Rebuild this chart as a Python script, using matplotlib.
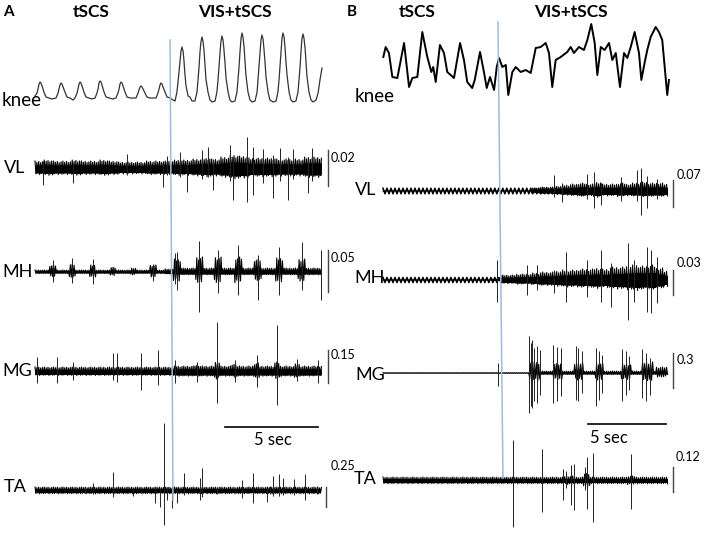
import numpy as np
import matplotlib.pyplot as plt

# ---- knee angle traces (time s, relative height) ----
A_knee_t = [0.00, 0.11, 0.16, 0.22, 0.27, 0.32, 0.38, 0.48, 0.59, 0.75, 0.91,
            1.13, 1.24, 1.29, 1.34, 1.40, 1.45, 1.51, 1.61, 1.72, 1.88, 2.04,
            2.15, 2.26, 2.31, 2.37, 2.42, 2.47, 2.53, 2.63, 2.74, 2.90, 3.06,
            3.23, 3.33, 3.39, 3.44, 3.49, 3.55, 3.60, 3.71, 3.82, 3.98, 4.19,
            4.35, 4.46, 4.52, 4.57, 4.62, 4.68, 4.73, 4.84, 4.95, 5.11, 5.27,
            5.43, 5.54, 5.59, 5.65, 5.70, 5.75, 5.81, 5.91, 6.02, 6.18, 6.34,
            6.51, 6.61, 6.67, 6.72, 6.77, 6.83, 6.88, 6.99, 7.10, 7.26, 7.42,
            7.53, 7.63, 7.69, 7.74, 7.80, 7.85, 7.90, 7.96, 8.01, 8.06, 8.12, 8.23, 8.33, 8.44,
            8.60, 8.71, 8.76, 8.82, 8.87, 8.92, 8.98, 9.03, 9.09, 9.14, 9.19, 9.30, 9.41, 9.52,
            9.68, 9.78, 9.84, 9.89, 9.95, 10.00, 10.05, 10.11, 10.16, 10.22, 10.27, 10.38, 10.48, 10.59,
            10.75, 10.86, 10.91, 10.97, 11.02, 11.08, 11.13, 11.18, 11.24, 11.29, 11.34, 11.45, 11.56, 11.67,
            11.83, 11.94, 11.99, 12.04, 12.10, 12.15, 12.20, 12.26, 12.31, 12.37, 12.42, 12.53, 12.63, 12.80,
            12.96, 13.06, 13.12, 13.17, 13.23, 13.28, 13.33, 13.39, 13.44, 13.49, 13.55, 13.66, 13.76, 13.87,
            14.03, 14.14, 14.19, 14.25, 14.30, 14.35, 14.41, 14.46, 14.52, 14.57, 14.62, 14.73, 14.84, 14.95,
            15.11, 15.22, 15.32, 15.43]
A_knee_v = [6, 9, 13, 18, 20, 19, 16, 10, 5, 4, 3,
            4, 9, 13, 17, 19, 18, 15, 10, 5, 4, 2,
            4, 9, 13, 18, 20, 19, 16, 10, 5, 4, 3,
            4, 9, 13, 19, 21, 20, 17, 10, 5, 4, 3,
            4, 9, 13, 18, 20, 19, 16, 10, 5, 4, 4,
            4, 9, 12, 15, 16, 15, 13, 9, 5, 4, 4,
            4, 9, 13, 17, 19, 18, 15, 10, 5, 4, 2,
            1, 10, 20, 30, 42, 51, 55, 51, 41, 28, 16, 6, 5, 1,
            1, 10, 22, 35, 50, 60, 65, 61, 51, 37, 23, 10, 2, 0,
            1, 10, 22, 35, 50, 61, 66, 62, 52, 38, 24, 10, 2, 0,
            1, 10, 22, 35, 50, 64, 69, 65, 55, 41, 27, 10, 2, 0,
            1, 10, 22, 35, 50, 62, 67, 63, 53, 39, 25, 10, 2, 0,
            1, 10, 22, 35, 50, 64, 69, 65, 55, 41, 27, 10, 2, 0,
            1, 10, 22, 35, 50, 63, 68, 64, 54, 40, 26, 10, 2, 0,
            2, 9, 22, 34]

B_knee_t = [0.02, 0.17, 0.38, 0.60, 0.92, 1.35, 1.67, 1.88, 2.20, 2.52, 2.84, 3.10, 3.22, 3.38,
            3.65, 3.91, 4.12, 4.55, 4.94, 5.19, 5.40, 5.72, 5.88, 6.22, 6.47, 6.65, 6.86, 7.12,
            7.29, 7.44, 7.65, 7.87, 8.03, 8.29, 8.51, 8.83, 9.15, 9.47, 9.79, 10.11, 10.43, 10.64,
            10.85, 11.07, 11.39, 11.81, 12.03, 12.24, 12.56, 12.88, 13.10, 13.35, 13.57, 13.74,
            13.96, 14.21, 14.49, 14.70, 14.92, 15.19, 15.45, 15.66, 15.88, 16.13, 16.41, 16.56,
            16.78, 16.94, 17.16, 17.48, 17.69, 17.90, 18.22, 18.33]
B_knee_v = [39, 49, 43, 19, 18, 53, 9, 18, 19, 64, 39, 24, 29, 14,
            51, 43, 24, 18, 53, 36, 14, 8, 16, 44, 24, 8, 19, 6,
            29, 38, 29, 31, 1, 24, 29, 24, 26, 23, 48, 49, 53, 43,
            9, 36, 39, 44, 49, 43, 49, 46, 56, 72, 53, 21,
            49, 46, 53, 36, 43, 9, 43, 38, 49, 64, 43, 16,
            34, 46, 59, 69, 64, 56, 1, 16]

# ---- EMG: noise level per 0.5 s bin, bursts (t, half height, duration), spikes (t, up, down) ----
A_VL_env = [8, 9, 8, 8, 9, 8, 8, 9, 8, 7, 7, 7, 8, 8, 8,
            9, 9, 10, 11, 10, 12, 14, 13, 11, 11, 11, 10, 10, 10, 12, 12]
A_VL_bursts = []
A_VL_spikes = [(0.43, 8, 16), (2.04, 6, 14), (4.95, 15, 6), (6.88, 5, 18), (7.10, 13, 6),
               (7.80, 17, 8), (8.17, 8, 23), (8.98, 19, 10), (9.30, 22, 8), (9.57, 10, 21),
               (10.48, 24, 12), (10.65, 12, 31), (11.40, 32, 33), (11.72, 22, 26), (12.26, 20, 14),
               (12.80, 14, 29), (13.17, 21, 12), (13.60, 12, 31), (13.87, 20, 10), (14.68, 10, 24),
               (14.89, 21, 12)]

A_MH_env = [2, 2, 2, 2, 2, 2, 2, 2, 2, 2, 2, 2, 2, 2, 3,
            4, 4, 4, 4, 4, 4, 4, 4, 4, 4, 4, 4, 4, 4, 4, 4]
A_MH_bursts = [(0.97, 7, 0.35), (1.99, 8, 0.35), (3.12, 7, 0.35), (4.19, 5, 0.3), (5.27, 4, 0.3),
               (6.34, 7, 0.35), (7.63, 13, 0.4), (8.82, 15, 0.4), (9.84, 15, 0.4), (10.91, 15, 0.4),
               (11.99, 13, 0.4), (13.12, 14, 0.4), (14.35, 13, 0.4)]
A_MH_spikes = [(0.97, 12, 10), (1.99, 14, 11), (3.12, 13, 12), (6.34, 8, 9), (7.50, 19, 12),
               (7.63, 20, 18), (8.82, 31, 40), (9.84, 22, 21), (10.91, 27, 23), (11.99, 17, 28),
               (13.12, 25, 23), (14.35, 30, 18), (15.38, 22, 28)]

A_MG_env = [5, 5, 5, 5, 5, 5, 5, 5, 5, 5, 5, 5, 5, 5, 5,
            6, 6, 6, 6, 6, 6, 6, 6, 6, 6, 6, 6, 6, 6, 6, 6]
A_MG_bursts = [(8.71, 7, 0.3), (9.78, 10, 0.3), (10.75, 8, 0.3), (11.94, 9, 0.3),
               (13.01, 10, 0.3), (14.09, 8, 0.3)]
A_MG_spikes = [(0.11, 15, 11), (1.18, 15, 11), (2.04, 10, 8), (4.19, 19, 8), (4.41, 19, 10),
               (5.70, 19, 18), (6.61, 22, 13), (7.53, 12, 11), (8.71, 10, 10), (9.78, 50, 31),
               (10.75, 12, 10), (11.94, 17, 15), (13.01, 47, 33), (14.09, 13, 9), (15.22, 12, 11)]

A_TA_env = [4, 4, 4, 4, 4, 4, 4, 4, 4, 4, 4, 4, 4, 4, 4,
            4, 4, 4, 4, 4, 4, 4, 4, 4, 4, 4, 4, 4, 4, 4, 4]
A_TA_bursts = []
A_TA_spikes = [(2.69, 4, 2), (3.12, 8, 3), (4.19, 19, 6), (5.27, 2, 5), (6.45, 3, 12), (6.72, 2, 16),
               (6.94, 68, 34), (7.10, 4, 9), (7.37, 2, 17), (7.63, 3, 12), (8.01, 18, 4),
               (8.87, 13, 9), (8.98, 23, 6), (9.78, 4, 3), (11.13, 11, 7), (11.72, 18, 12),
               (12.47, 3, 11), (12.63, 5, 3), (12.80, 15, 5), (13.12, 17, 5), (13.33, 13, 4),
               (13.92, 12, 4), (14.52, 17, 9), (15.16, 5, 3)]

B_VL_env = [0, 0, 0, 0, 0, 0, 0, 0, 0, 0, 0, 0, 0, 0, 0, 0, 0, 0, 0,
            3, 4, 4, 5, 6, 7, 8, 7, 9, 7, 7, 8, 7, 8, 9, 8, 8, 7]
B_VL_artifact = 2.8
B_VL_bursts = []
B_VL_spikes = [(10.96, 16, 6), (11.47, 8, 11), (13.08, 17, 8), (13.53, 19, 17), (13.96, 8, 14),
               (15.24, 14, 10), (16.28, 21, 10), (16.52, 23, 24), (16.92, 15, 17), (17.56, 12, 8)]

B_MH_env = [0, 0, 0, 0, 0, 0, 0, 0, 0, 0, 0, 0, 0, 0,
            1, 5, 5, 6, 6, 7, 8, 8, 9, 10, 10, 11, 11, 12, 11, 13, 13, 14, 15, 14, 15, 12, 9]
B_MH_artifact = 2.6
B_MH_bursts = []
B_MH_spikes = [(7.31, 20, 22), (9.25, 15, 15), (9.85, 15, 10), (10.96, 10, 13), (11.75, 28, 22),
               (13.08, 20, 17), (13.96, 30, 22), (14.60, 17, 27), (15.71, 37, 40), (16.09, 20, 22),
               (16.94, 33, 32), (17.16, 30, 33), (17.58, 23, 23)]

B_MG_env = [0.4] * 19 + [2] * 18
B_MG_bursts = [(9.74, 11, 0.7), (11.19, 10, 0.6), (12.56, 10, 0.55), (13.85, 10, 0.55),
               (15.58, 9, 0.6), (16.96, 11, 0.7), (17.88, 6, 0.7)]
B_MG_spikes = [(7.35, 10, 13), (9.38, 37, 40), (9.47, 30, 33), (9.57, 33, 35), (9.70, 25, 28),
               (9.85, 27, 30), (10.06, 23, 22), (10.92, 28, 30), (11.17, 26, 28), (11.39, 25, 23),
               (12.35, 27, 27), (12.52, 25, 28), (12.78, 22, 20), (13.63, 25, 33), (13.85, 22, 27),
               (14.06, 18, 20), (15.34, 24, 28), (15.56, 22, 22), (15.77, 17, 17), (16.62, 24, 25),
               (16.86, 20, 28), (17.12, 15, 22)]

B_TA_env = [4] * 37
B_TA_bursts = [(11.9, 5, 0.6), (13.05, 8, 0.4), (15.9, 5, 0.5)]
B_TA_spikes = [(8.31, 41, 46), (10.17, 32, 31), (11.56, 12, 19), (11.73, 10, 7), (12.03, 16, 24),
               (12.24, 17, 29), (12.95, 14, 9), (13.10, 24, 28), (13.48, 28, 41), (15.90, 27, 28)]

W, H = 708, 534
TEXTURE = np.array([1.0, 0.6, 0.85, 0.5, 0.95, 0.7, 0.8, 0.55, 0.9, 0.65])
BLUE = '#9dbcd9'

plt.rcParams['font.family'] = ['Lato', 'DejaVu Sans']
fig = plt.figure(figsize=(7.08, 5.34), dpi=100)


def panel(rect, px0, px_per_s):
    ax = fig.add_axes(rect)
    left = rect[0] * W
    ax.set_xlim((left - px0) / px_per_s, (left + rect[2] * W - px0) / px_per_s)
    ax.set_ylim(H, 0)
    ax.axis('off')
    return ax


def draw_emg(ax, row, t_end, env, bursts, spikes, step, art=0.0, bin_w=0.5):
    t = np.arange(0, t_end, step)
    idx = np.minimum((t / bin_w).astype(int), len(env) - 1)
    base = np.asarray(env, float)[idx]
    amp = base.copy()
    for tc, h, dur in bursts:
        near = np.abs(t - tc) <= dur / 2
        amp[near] = np.maximum(amp[near], h)
    n = np.arange(len(t))
    sign = np.where(n % 2 == 0, 1, -1)
    # solid core of the noise band, then the jagged edge
    ax.fill_between(t, row - base * 0.5, row + base * 0.5, color='black', lw=0)
    ax.plot(t, row - amp * TEXTURE[n % len(TEXTURE)] * sign, color='black', lw=0.8)
    if art:
        ta = np.arange(0, t_end, 0.128)
        sa = np.where(np.arange(len(ta)) % 2 == 0, 1, -1)
        ax.plot(ta, row - art * sa, color='black', lw=1.1)
    if spikes:
        st, up, dn = zip(*spikes)
        ax.vlines(st, row + np.array(dn), row - np.array(up), colors='#222222', lw=0.7)


def txt(x, y, s, size=13, weight='normal', ha='left'):
    fig.text(x / W, 1 - y / H, s, fontsize=size, fontweight=weight, ha=ha, va='center')


# Panel A
axA = panel([0, 0, 0.5, 1], 35, 18.6)
axA.plot(A_knee_t, 102 - np.array(A_knee_v), color='#333333', lw=0.9)
draw_emg(axA, 169, 15.45, A_VL_env, A_VL_bursts, A_VL_spikes, 0.05)
draw_emg(axA, 272, 15.45, A_MH_env, A_MH_bursts, A_MH_spikes, 0.05)
draw_emg(axA, 372, 15.45, A_MG_env, A_MG_bursts, A_MG_spikes, 0.05)
draw_emg(axA, 491, 15.45, A_TA_env, A_TA_bursts, A_TA_spikes, 0.05)
axA.plot([7.26, 7.42], [40, 500], color=BLUE, lw=1.1)
axA.plot([10.2, 15.2], [427, 427], color='black', lw=1.2)
for y0, y1 in [(150, 186), (250, 292), (350, 383)]:
    axA.plot([15.75, 15.75], [y0, y1], color='#444444', lw=1)
axA.plot([15.65, 15.65], [487, 507], color='#444444', lw=1)

# Panel B
axB = panel([0.5, 0, 0.5, 1], 383, 15.6)
axB.plot(B_knee_t, 96 - np.array(B_knee_v), color='black', lw=1.4)
draw_emg(axB, 191, 18.3, B_VL_env, B_VL_bursts, B_VL_spikes, 0.064, art=B_VL_artifact)
draw_emg(axB, 280, 18.3, B_MH_env, B_MH_bursts, B_MH_spikes, 0.064, art=B_MH_artifact)
draw_emg(axB, 373, 18.3, B_MG_env, B_MG_bursts, B_MG_spikes, 0.064)
draw_emg(axB, 481, 18.3, B_TA_env, B_TA_bursts, B_TA_spikes, 0.064)
axB.plot([7.37, 7.69], [22, 478], color=BLUE, lw=1.1)
axB.plot([13.14, 18.14], [424, 424], color='black', lw=1.2)
for y0, y1 in [(180, 207), (270, 295), (353, 388), (467, 492)]:
    axB.plot([18.6, 18.6], [y0, y1], color='#444444', lw=1)

# text
txt(3, 12, 'A', size=11, weight='bold')
txt(347, 12, 'B', size=11, weight='bold')
txt(91, 12, 'tSCS', size=12.5, weight='bold', ha='center')
txt(235, 12, 'VIS+tSCS', size=12.5, weight='bold', ha='center')
txt(417, 12, 'tSCS', size=12.5, weight='bold', ha='center')
txt(571, 12, 'VIS+tSCS', size=12.5, weight='bold', ha='center')

for x, y, s in [(2, 101, 'knee'), (4, 168, 'VL'), (2, 272, 'MH'), (2, 371, 'MG'), (4, 487, 'TA'),
                (355, 97, 'knee'), (355, 190, 'VL'), (354, 278, 'MH'), (355, 375, 'MG'), (354, 479, 'TA')]:
    txt(x, y, s, size=13.5 if s == 'knee' else 13)

for x, y, s in [(331, 158, '0.02'), (331, 258, '0.05'), (331, 355, '0.15'), (331, 466, '0.25'),
                (677, 175, '0.07'), (677, 263, '0.03'), (677, 360, '0.3'), (676, 457, '0.12')]:
    txt(x, y, s, size=9)

txt(273, 440, '5 sec', size=12, ha='center')
txt(609, 438, '5 sec', size=12, ha='center')

fig.savefig('out.png', dpi=100)
